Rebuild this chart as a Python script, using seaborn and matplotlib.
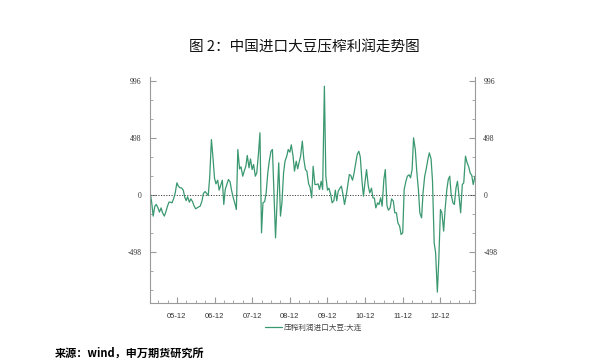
import numpy as np
import pandas as pd
import matplotlib
matplotlib.use("Agg")
import matplotlib.pyplot as plt
import matplotlib.dates as mdates
from matplotlib.ticker import MultipleLocator, FixedLocator
import seaborn as sns

title = "图 2：中国进口大豆压榨利润走势图"
series_name = "压榨利润进口大豆:大连"
source = "来源：wind，申万期货研究所"
start_date = "2005-03-15"
ytick_vals = [996, 498, 0, -498]

values = [
    32, -70, -186, -99, -84, -114, -151, -114, -157, -186,
    -151, -99, -64, -64, -70, -29, 17, 105, 76, 61,
    61, 41, -20, -50, -17, -64, -35, -58, -93, -122,
    -114, -105, -99, -55, 12, 29, 12, -6, 149, 483,
    338, 146, 96, 128, 41, 90, 128, -84, 47, 96,
    134, 114, 41, -26, -70, -128, 396, 227, 245, 163,
    207, 250, 344, 236, 314, 221, 265, 163, 192, 367,
    542, -332, -70, -58, 17, 192, 294, 381, 396, -12,
    -376, -12, 280, -186, -70, 192, 294, 338, 396, 373,
    437, 338, 207, 294, 227, 285, 338, 469, 314, 221,
    207, 96, 67, -26, 250, 90, 90, 96, 47, 119,
    47, 949, 163, 41, 58, 3, -70, -50, 41, -52,
    32, 58, 76, 0, -84, -6, 82, 178, 169, 128,
    186, 280, 352, 381, 332, 119, -12, 119, 221, 76,
    17, 58, -26, -29, -114, -70, -84, -26, -99, 134,
    221, -93, -134, -114, -35, -55, -157, -157, -245, -274,
    -347, -332, 47, 119, 163, 175, 149, 221, 498, 396,
    207, 47, -157, -201, 17, 163, 221, 309, 367, 314,
    119, -419, -507, -850, -565, -128, -157, -317, -128, 47,
    134, 163, 3, -70, -84, 61, 119, -26, -157, 90,
    105, 338, 285, 245, 192, 169, 90, 163,
]

dates = pd.date_range(start_date, periods=len(values), freq="SMS")
df = pd.DataFrame({"date": dates, "value": values})

sns.set_style("white")
plt.rcParams["font.family"] = ["Noto Sans CJK SC", "DejaVu Sans"]
plt.rcParams["axes.unicode_minus"] = False

fig = plt.figure(figsize=(6.06, 3.63), dpi=100)
ax = fig.add_axes([0.2475, 0.1653, 0.5363, 0.6227])

line_color = "#3a9870"
sns.lineplot(data=df, x="date", y="value", ax=ax, color=line_color,
             linewidth=0.9, label=series_name, legend=False)
ax.axhline(0, color="#444444", linestyle=(0, (1.2, 1.5)), linewidth=0.7, zorder=1)

ax.set_xlim(dates[0], dates[-1])
ax.set_ylim(-945, 1030)
ax.set_xlabel("")
ax.set_ylabel("")

ax.xaxis.set_major_locator(mdates.MonthLocator(bymonth=[12], bymonthday=1))
ax.xaxis.set_minor_locator(mdates.MonthLocator(bymonth=[3, 6, 9, 12], bymonthday=1))
ax.xaxis.set_major_formatter(mdates.DateFormatter("%y-%m"))

ax.yaxis.set_major_locator(FixedLocator(ytick_vals))
ax.yaxis.set_minor_locator(MultipleLocator(166))

spine_c = "#9a9a9a"
for s in ["left", "right", "bottom"]:
    ax.spines[s].set_color(spine_c)
    ax.spines[s].set_linewidth(0.8)
ax.spines["top"].set_visible(False)

ax.tick_params(axis="both", which="both", direction="in", color=spine_c)
ax.tick_params(axis="y", which="major", length=4, labelsize=5.5, labelcolor="#333333",
               left=True, right=True, labelleft=True, labelright=True, pad=6)
ax.tick_params(axis="y", which="minor", length=2.5, left=True, right=True)
ax.tick_params(axis="x", which="major", length=4, labelsize=5.5, labelcolor="#333333", bottom=True, pad=7)
ax.tick_params(axis="x", which="minor", length=2.5, bottom=True)
for lab in ax.get_yticklabels():
    lab.set_family("Liberation Serif")
for lab in ax.get_xticklabels():
    lab.set_family("Liberation Sans")

fig.text(0.503, 0.87, title, ha="center", va="center", fontsize=10.5, color="#111111")

handles, labels = ax.get_legend_handles_labels()
fig.legend(handles, labels, loc="center", bbox_to_anchor=(0.517, 0.096), frameon=False,
           fontsize=5.5, handlelength=2.2, handletextpad=0.2, labelcolor="#444444")

fig.text(0.09, 0.027, source, ha="left", va="center", fontsize=8, fontweight="bold", color="#000000")

fig.savefig("out.png", dpi=100)
